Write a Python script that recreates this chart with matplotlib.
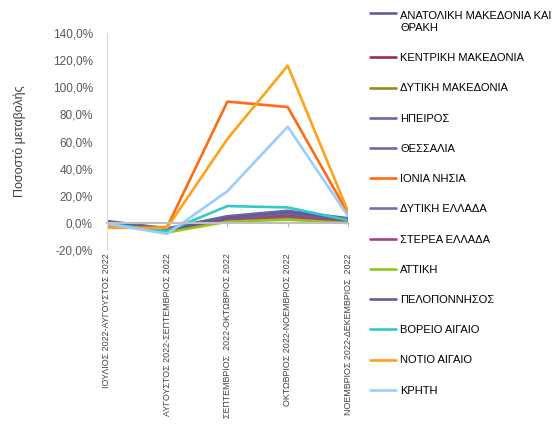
import matplotlib
matplotlib.use('Agg')
import matplotlib.pyplot as plt
from matplotlib.legend_handler import HandlerLine2D
from matplotlib.ticker import FuncFormatter

plt.rcParams['font.family'] = ['Liberation Sans', 'DejaVu Sans']

# periods (x categories)
periods = [
    'ΙΟΥΛΙΟΣ 2022-ΑΥΓΟΥΣΤΟΣ 2022',
    'ΑΥΓΟΥΣΤΟΣ 2022-ΣΕΠΤΕΜΒΡΙΟΣ 2022',
    'ΣΕΠΤΕΜΒΡΙΟΣ  2022-ΟΚΤΩΒΡΙΟΣ 2022',
    'ΟΚΤΩΒΡΙΟΣ 2022-ΝΟΕΜΒΡΙΟΣ 2022',
    'ΝΟΕΜΒΡΙΟΣ 2022-ΔΕΚΕΜΒΡΙΟΣ  2022',
]

regions = [
    'ΑΝΑΤΟΛΙΚΗ ΜΑΚΕΔΟΝΙΑ ΚΑΙ\nΘΡΑΚΗ',
    'ΚΕΝΤΡΙΚΗ ΜΑΚΕΔΟΝΙΑ',
    'ΔΥΤΙΚΗ ΜΑΚΕΔΟΝΙΑ',
    'ΗΠΕΙΡΟΣ',
    'ΘΕΣΣΑΛΙΑ',
    'ΙΟΝΙΑ ΝΗΣΙΑ',
    'ΔΥΤΙΚΗ ΕΛΛΑΔΑ',
    'ΣΤΕΡΕΑ ΕΛΛΑΔΑ',
    'ΑΤΤΙΚΗ',
    'ΠΕΛΟΠΟΝΝΗΣΟΣ',
    'ΒΟΡΕΙΟ ΑΙΓΑΙΟ',
    'ΝΟΤΙΟ ΑΙΓΑΙΟ',
    'ΚΡΗΤΗ',
]

colors = [
    '#625C9C', '#9B2D5E', '#8C8C1E', '#6A69A8', '#6D6DA6', '#FF6A14',
    '#7170AE', '#A3447C', '#8FC71C', '#5E5C9A', '#33C9C9', '#FFA21A',
    '#99CCFF',
]

# percent change per period
anat_makedonia = [1.5, -4.0, 5.0, 9.0, 3.5]
kentriki_makedonia = [0.5, -5.0, 3.0, 6.0, 1.0]
dytiki_makedonia = [0.0, -6.0, 2.0, 4.0, 1.0]
ipeiros = [1.0, -5.0, 4.0, 8.0, 2.5]
thessalia = [0.5, -5.0, 3.5, 7.0, 2.0]
ionia_nisia = [-3.0, -3.0, 89.5, 85.5, 7.0]
dytiki_ellada = [1.0, -4.5, 4.5, 8.5, 3.0]
sterea_ellada = [0.0, -5.5, 2.5, 5.0, 1.0]
attiki = [-0.5, -7.0, 1.0, 2.5, 0.0]
peloponnisos = [0.5, -5.0, 4.0, 8.0, 2.5]
voreio_aigaio = [-0.5, -6.0, 12.5, 11.5, 2.0]
notio_aigaio = [-3.5, -3.5, 62.0, 116.0, 8.5]
kriti = [-0.5, -8.0, 23.5, 71.0, 5.0]

series = [anat_makedonia, kentriki_makedonia, dytiki_makedonia, ipeiros,
          thessalia, ionia_nisia, dytiki_ellada, sterea_ellada, attiki,
          peloponnisos, voreio_aigaio, notio_aigaio, kriti]

y_ticks = [-20, 0, 20, 40, 60, 80, 100, 120, 140]


class FirstLineHandler(HandlerLine2D):
    """Put the legend line next to the first line of a wrapped label."""
    def __init__(self, shift, **kw):
        super().__init__(**kw)
        self.shift = shift

    def create_artists(self, legend, orig_handle, xdescent, ydescent,
                       width, height, fontsize, trans):
        artists = super().create_artists(legend, orig_handle, xdescent, ydescent,
                                         width, height, fontsize, trans)
        for a in artists:
            x, y = a.get_data()
            a.set_data(x, [v + self.shift * fontsize for v in y])
        return artists


fig = plt.figure(figsize=(5.56, 4.24), dpi=100)
ax = fig.add_axes([0.192, 0.41, 0.434, 0.512])

x = list(range(len(periods)))
handles = []
for vals, name, col in zip(series, regions, colors):
    h, = ax.plot(x, vals, color=col, lw=1.9, solid_capstyle='round')
    handles.append(h)

# x axis line sits at 0, labels stay below the plot
ax.spines['bottom'].set_position(('data', 0))
ax.spines['bottom'].set_color('#BFBFBF')
ax.spines['bottom'].set_linewidth(1.5)
ax.spines['left'].set_color('#D9D9D9')
for s in ['top', 'right']:
    ax.spines[s].set_visible(False)

ax.set_xlim(0, len(periods) - 1)
ax.set_ylim(-20, 140)
ax.set_yticks(y_ticks)
ax.yaxis.set_major_formatter(FuncFormatter(lambda v, p: f'{v:.1f}%'.replace('.', ',')))
ax.tick_params(axis='y', length=0, labelsize=8.5, labelcolor='#595959', pad=10)

ax.set_xticks(x)
ax.set_xticklabels(periods, rotation=90, fontsize=6.4, color='#404040')
ax.tick_params(axis='x', length=3, color='#BFBFBF', pad=19)

ax.set_ylabel('Ποσοστό μεταβολής', fontsize=9, color='#404040', labelpad=19)

fig.legend(handles, regions, loc='upper left', bbox_to_anchor=(0.665, 0.973),
           frameon=False, fontsize=8, handlelength=2.4, handletextpad=0.35,
           labelspacing=1.82, borderpad=0, borderaxespad=0,
           handler_map={handles[0]: FirstLineHandler(0.85)})

fig.savefig('out.png', dpi=100)
